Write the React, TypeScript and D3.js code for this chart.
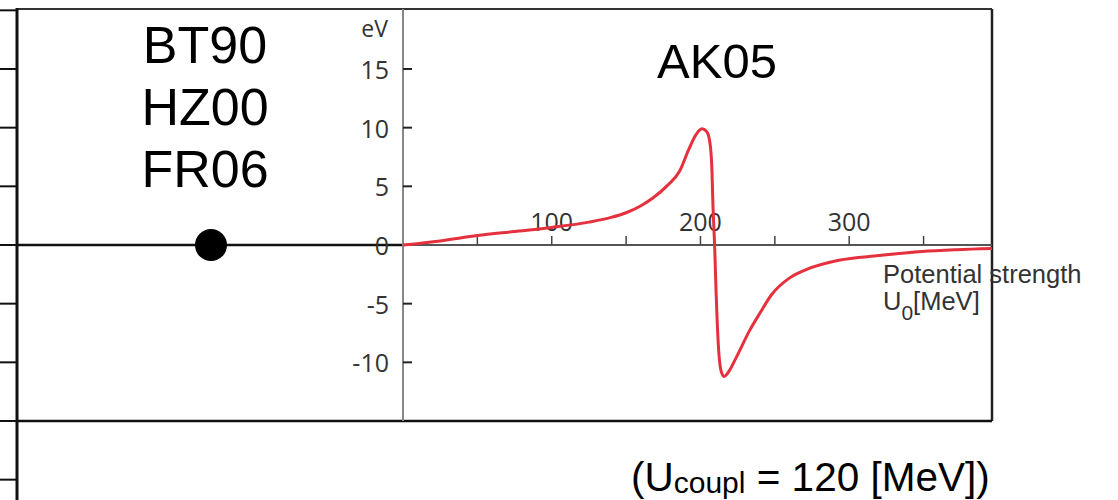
import React from "react"
import * as d3 from "d3"

const W = 1118
const H = 500

// curve: potential strength U0 [MeV] -> energy [eV]
const U0 = [
  0, 25, 50, 75, 100, 125, 140, 150, 160, 168, 178, 186, 192, 197, 201, 204, 206, 207.5,
  208.5, 209.5, 210.5, 212, 214, 216, 219, 224, 233, 240, 248, 260, 271, 293, 320, 349,
  372, 396,
]
const ENERGY = [
  0, 0.35, 0.8, 1.15, 1.5, 1.95, 2.35, 2.75, 3.35, 4.0, 5.1, 6.3, 8.1, 9.4, 9.9, 9.7, 9.0,
  7.0, 3.0, 0, -4, -8.5, -10.8, -11.2, -10.8, -9.6, -7.3, -5.8, -4.2, -2.8, -2.1, -1.3,
  -0.9, -0.55, -0.4, -0.3,
]

const Y_TICKS = [15, 10, 5, 0, -5, -10]
const LEFT_TICKS = [20, 15, 10, 5, 0, -5, -10, -15, -20]
const X_MINOR = [50, 100, 150, 200, 250, 300, 350]
const X_LABELS = [100, 200, 300]
const METHODS = ["BT90", "HZ00", "FR06"]
const TITLE = "AK05"

const BOX = { left: 17, top: 9, right: 992, bottom: 421 }
const AXIS_X = 403
const RED = "#e5313d"
const HELV = "'Liberation Sans', Arial, sans-serif"
const TICK_FONT = "'Open Sans', 'Noto Sans', sans-serif"

export default function App() {
  const x = d3.scaleLinear().domain([0, 396]).range([AXIS_X, BOX.right])
  const y = d3.scaleLinear().domain([15, 0]).range([69, 245])

  const line = d3
    .line<number>()
    .x(i => x(U0[i]))
    .y(i => y(ENERGY[i]))
    .curve(d3.curveMonotoneX)
  const path = line(d3.range(U0.length)) || ""

  return (
    <svg
      width={W}
      height={H}
      style={{ position: "absolute", left: 0, top: 0, display: "block", background: "#fff" }}
    >
      {/* outer frame */}
      <line x1={BOX.left} x2={BOX.right} y1={BOX.top} y2={BOX.top} stroke="#333" strokeWidth={2} />
      <line x1={BOX.right} x2={BOX.right} y1={BOX.top} y2={BOX.bottom} stroke="#222" strokeWidth={2.5} />
      <line x1={BOX.left} x2={BOX.right} y1={BOX.bottom} y2={BOX.bottom} stroke="#111" strokeWidth={2.5} />
      <line x1={BOX.left} x2={BOX.left} y1={BOX.top - 1} y2={H} stroke="#111" strokeWidth={3} />
      {LEFT_TICKS.map(v => (
        <line key={v} x1={0} x2={BOX.left} y1={y(v)} y2={y(v)} stroke="#111" strokeWidth={2} />
      ))}

      {/* left panel: zero line with point */}
      <line x1={BOX.left} x2={AXIS_X} y1={y(0)} y2={y(0)} stroke="#111" strokeWidth={2.5} />
      <circle cx={211} cy={y(0)} r={16} fill="#000" />
      {METHODS.map((m, i) => (
        <text
          key={m}
          x={205}
          y={63 + i * 62}
          textAnchor="middle"
          fontFamily={HELV}
          fontSize={52}
          fill="#000"
        >
          {m}
        </text>
      ))}

      {/* y axis */}
      <line x1={AXIS_X} x2={AXIS_X} y1={BOX.top} y2={BOX.bottom} stroke="#888" strokeWidth={2} />
      {Y_TICKS.map(v => (
        <g key={v}>
          <line x1={AXIS_X} x2={AXIS_X + 9} y1={y(v)} y2={y(v)} stroke="#222" strokeWidth={2} />
          <text
            x={389}
            y={y(v)}
            dy="0.4em"
            textAnchor="end"
            fontFamily={TICK_FONT}
            fontSize={25}
            fill="#333"
          >
            {v}
          </text>
        </g>
      ))}
      <text x={388} y={37} textAnchor="end" fontFamily={TICK_FONT} fontSize={23} fill="#333">
        eV
      </text>

      {/* x axis */}
      <line x1={AXIS_X} x2={BOX.right} y1={y(0)} y2={y(0)} stroke="#555" strokeWidth={2} />
      {X_MINOR.map(v => (
        <line key={v} x1={x(v)} x2={x(v)} y1={y(0)} y2={y(0) - 9} stroke="#444" strokeWidth={1.5} />
      ))}
      {X_LABELS.map(v => (
        <text
          key={v}
          x={x(v)}
          y={231}
          textAnchor="middle"
          fontFamily={TICK_FONT}
          fontSize={25}
          fill="#333"
        >
          {v}
        </text>
      ))}

      <path d={path} fill="none" stroke={RED} strokeWidth={3} strokeLinejoin="round" />

      <text x={717} y={78} textAnchor="middle" fontFamily={HELV} fontSize={49} fill="#000">
        {TITLE}
      </text>

      <text x={883} y={283} fontFamily={HELV} fontSize={25.5} fill="#333">
        Potential strength
      </text>
      <text x={883} y={310} fontFamily={HELV} fontSize={25.5} fill="#333">
        U
        <tspan fontSize={21} dy={10}>
          0
        </tspan>
        <tspan dy={-10}>[MeV]</tspan>
      </text>

      <text x={631} y={491} fontFamily={HELV} fontSize={40.5} fill="#000">
        (U
        <tspan fontSize={30} dy={2}>
          coupl
        </tspan>
        <tspan dy={-2}> = 120 [MeV])</tspan>
      </text>
    </svg>
  )
}
